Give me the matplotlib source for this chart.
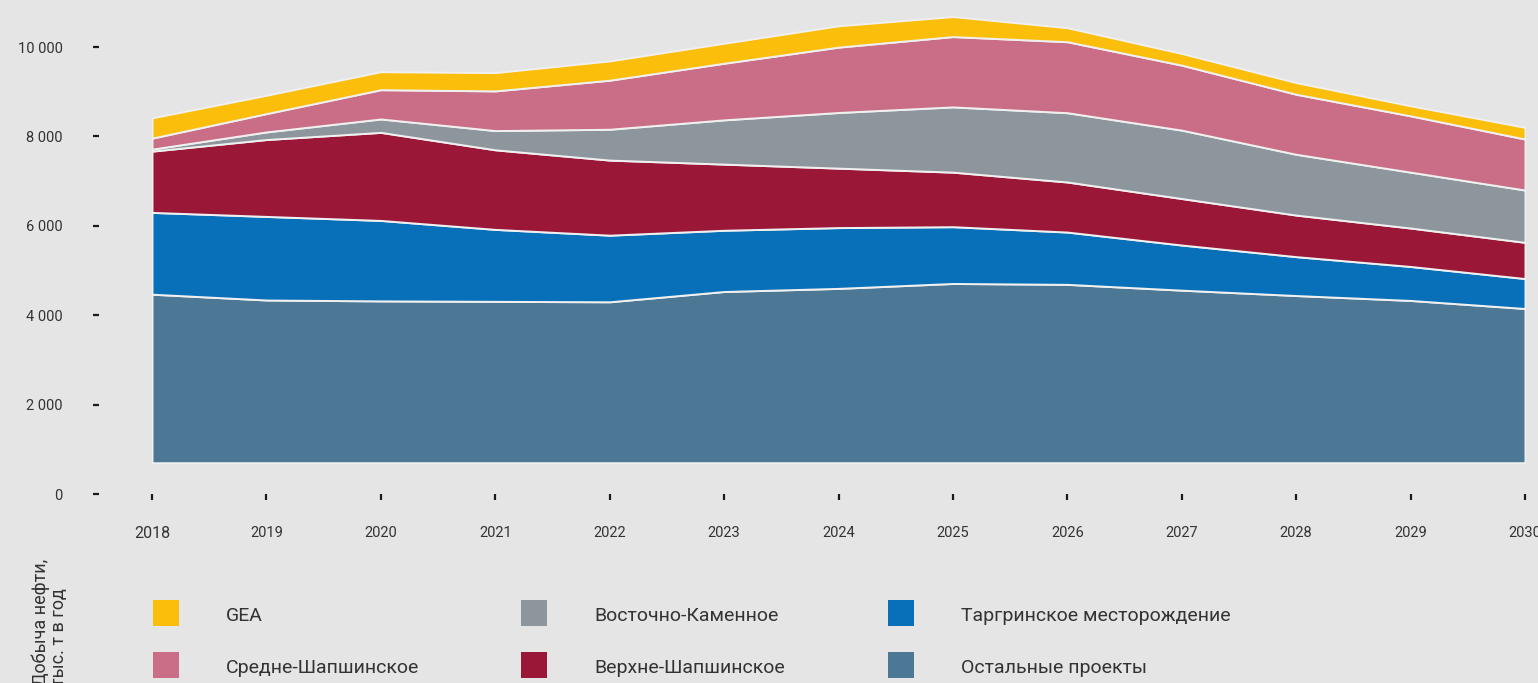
import matplotlib
matplotlib.use("Agg")
import matplotlib.pyplot as plt
import numpy as np
from matplotlib.patches import Rectangle

years = [2018, 2019, 2020, 2021, 2022, 2023, 2024, 2025, 2026, 2027, 2028, 2029, 2030]
year_labels = [str(y) for y in years]

# Series (thousand tonnes / year), stacked bottom -> top
ostalnye = [3770, 3640, 3620, 3610, 3600, 3830, 3900, 4010, 3990, 3860, 3740, 3630, 3450]
targ = [1830, 1870, 1800, 1610, 1490, 1370, 1360, 1270, 1170, 1010, 870, 760, 670]
verkhne = [1370, 1720, 1970, 1780, 1680, 1480, 1330, 1220, 1120, 1040, 930, 860, 810]
vostochno = [45, 170, 300, 430, 690, 990, 1245, 1460, 1550, 1530, 1360, 1250, 1170]
sredne = [246, 410, 655, 888, 1097, 1267, 1462, 1573, 1588, 1454, 1343, 1260, 1141]
gea = [454, 410, 403, 409, 432, 447, 477, 448, 313, 261, 261, 224, 261]
BASE = 700

series_names = ["Остальные проекты", "Таргринское месторождение", "Верхне-Шапшинское",
                "Восточно-Каменное", "Средне-Шапшинское", "GEA"]
series_values = [ostalnye, targ, verkhne, vostochno, sredne, gea]
colors = ["#4c7896", "#0870b8", "#9b1737", "#8c969c", "#c96e86", "#fbbe0b"]

yticks = [0, 2000, 4000, 6000, 8000, 10000]
ytick_labels = ["0", "2 000", "4 000", "6 000", "8 000", "10 000"]

FONT = ["Roboto", "DejaVu Sans"]
plt.rcParams["font.family"] = FONT

BG = "#e5e5e5"
W, H = 1538, 683
fig = plt.figure(figsize=(W / 100, H / 100), dpi=100, facecolor=BG)

ax_left = 152 / W
ax_w = (1525 - 152) / W
ax_bottom = (H - 494) / H
px_per_unit = (494 - 47) / 10000
ymax = 11000
ax_h = ymax * px_per_unit / H
ax = fig.add_axes([ax_left, ax_bottom, ax_w, ax_h])
ax.patch.set_visible(False)

x = np.array(years, dtype=float)
bottom = np.full(len(years), BASE, dtype=float)
for vals, col in zip(series_values, colors):
    top = bottom + np.array(vals, dtype=float)
    ax.fill_between(x, bottom, top, facecolor=col, edgecolor="#f0f0f0",
                    linewidth=1.4, zorder=2)
    bottom = top

ax.set_xlim(2018, 2030)
ax.set_ylim(0, ymax)
for s in ax.spines.values():
    s.set_color("none")
ax.spines["left"].set_position(("outward", 53 * 0.72))

ax.set_yticks(yticks)
ax.set_yticklabels(ytick_labels)
ax.set_xticks(years)
ax.set_xticklabels(year_labels)
ax.tick_params(axis="y", direction="out", length=4.3, width=1.6, color="#1a1a1a",
               pad=22, labelsize=10.5, labelcolor="#333333")
ax.tick_params(axis="x", direction="out", length=4.3, width=1.6, color="#1a1a1a",
               pad=19, labelsize=10.5, labelcolor="#333333")
ax.xaxis.get_ticklabels()[0].set_fontsize(11.5)

# Y-axis title (rotated, clipped at the bottom as in the reference)
fig.text(31 / W, 1 - 686 / H, "Добыча нефти,\nтыс. т в год", rotation=90,
         ha="left", va="bottom", fontsize=13, color="#333333",
         linespacing=1.05, multialignment="left")

# Legend
legend_rows = [
    [("GEA", "#fbbe0b"), ("Восточно-Каменное", "#8c969c"), ("Таргринское месторождение", "#0870b8")],
    [("Средне-Шапшинское", "#c96e86"), ("Верхне-Шапшинское", "#9b1737"), ("Остальные проекты", "#4c7896")],
]
col_sq_x = [153, 521, 888]
col_tx_x = [226, 594, 961]
row_y = [613, 665]
for r, row in enumerate(legend_rows):
    for c, (name, col) in enumerate(row):
        yc = row_y[r]
        fig.patches.append(Rectangle((col_sq_x[c] / W, 1 - (yc + 13) / H), 26 / W, 26 / H,
                                     transform=fig.transFigure, facecolor=col,
                                     edgecolor="none"))
        fig.text(col_tx_x[c] / W, 1 - (yc + 3) / H, name, ha="left", va="center",
                 fontsize=14, color="#333333")

fig.savefig("out.png", dpi=100, facecolor=BG)
